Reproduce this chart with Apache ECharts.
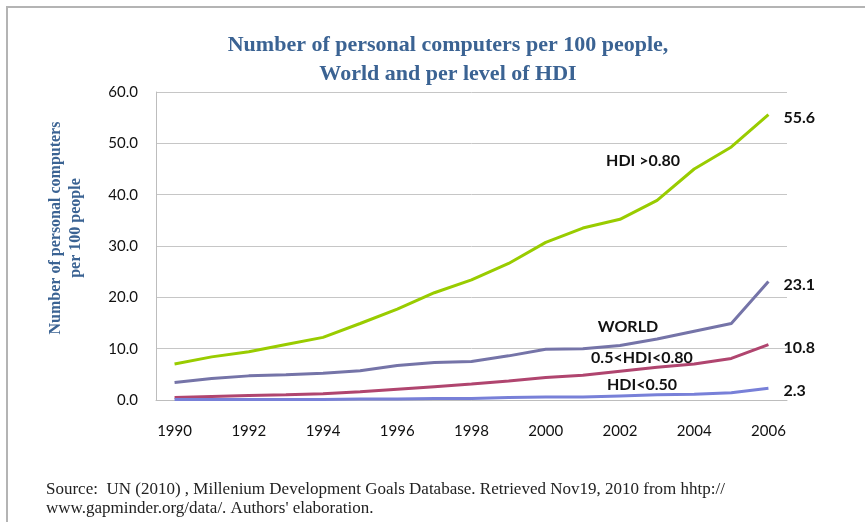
<!DOCTYPE html>
<html><head><meta charset="utf-8">
<script src="https://cdn.jsdelivr.net/npm/echarts@6/dist/echarts.min.js"></script>
<style>html,body{margin:0;padding:0;background:#fff}#c{width:865px;height:522px}</style>
</head><body><div id="c"></div>
<script>
var years = ['1990','1991','1992','1993','1994','1995','1996','1997','1998','1999','2000','2001','2002','2003','2004','2005','2006'];
var hdiHigh = [7.0,8.4,9.4,10.8,12.2,14.9,17.7,20.9,23.4,26.6,30.7,33.5,35.2,38.9,45.0,49.3,55.6];
var world = [3.4,4.2,4.7,4.9,5.2,5.7,6.7,7.3,7.5,8.6,9.9,10.0,10.6,11.9,13.4,14.9,23.1];
var hdiMid = [0.5,0.7,0.9,1.0,1.2,1.6,2.1,2.6,3.1,3.7,4.4,4.8,5.6,6.4,7.0,8.1,10.8];
var hdiLow = [0.1,0.1,0.1,0.1,0.1,0.2,0.2,0.3,0.3,0.5,0.6,0.6,0.8,1.0,1.1,1.4,2.3];
var yTicks = [0,10,20,30,40,50,60];
var seriesNames = ['HDI >0.80','WORLD','0.5<HDI<0.80','HDI<0.50'];
var seriesColors = ['#99cc00','#7574a8','#b0456f','#7880d8'];
var seriesData = [hdiHigh, world, hdiMid, hdiLow];
var nameAnchors = [['2003',46.6],['2002',14.3],['2002',8.2],['2002',2.9]];
var nameOffsets = [[-14,0],[8,0],[22,0],[22,0]];

var chart = echarts.init(document.getElementById('c'));
var lblFont = 'Lato, "Open Sans", sans-serif';
var series = seriesData.map(function(d,i){
  return {
    type:'line', name:seriesNames[i], data:d, symbol:'none', smooth:false,
    lineStyle:{color:seriesColors[i], width:3}, itemStyle:{color:seriesColors[i]},
    endLabel:{show:true, formatter:function(p){return p.value.toFixed(1);}, color:'#111', fontWeight:'bold', fontSize:16, fontFamily:lblFont, distance:15, offset:[0,3]},
    markPoint:{symbol:'circle', symbolSize:0, silent:true,
      data:[{coord:nameAnchors[i], value:seriesNames[i]}],
      label:{show:true, position:'inside', offset:nameOffsets[i], formatter:seriesNames[i], color:'#111', fontWeight:'bold', fontSize:16, fontFamily:lblFont}},
    z: 3
  };
});
chart.setOption({
  animation:false,
  backgroundColor:'#fff',
  title:{text:'Number of personal computers per 100 people,\nWorld and per level of HDI', left:443, textAlign:'center', top:26,
    textStyle:{fontFamily:'"Liberation Serif", "DejaVu Serif", serif', fontWeight:'bold', fontSize:22, color:'#3b6393', lineHeight:29}},
  graphic:[
    {type:'rect', shape:{x:7, y:7, width:900, height:600}, style:{fill:'none', stroke:'#b4b4b4', lineWidth:2}, silent:true},
    {type:'text', x:66, y:228, rotation:Math.PI/2, silent:true,
      style:{text:'Number of personal computers\nper 100 people', font:'bold 16px "Liberation Serif", serif', fill:'#3b6393', align:'center', verticalAlign:'middle', lineHeight:20}},
    {type:'text', left:46, top:480, style:{text:"Source:  UN (2010) , Millenium Development Goals Database. Retrieved Nov19, 2010 from hhtp://\nwww.gapminder.org/data/. Authors' elaboration.", font:'17px "Liberation Serif", serif', fill:'#222', lineHeight:19}}
  ],
  grid:{left:156, right:78, top:92, bottom:122},
  xAxis:{type:'category', data:years, boundaryGap:true,
    axisLine:{show:true, lineStyle:{color:'#bdbdbd', width:1}}, axisTick:{show:false},
    axisLabel:{interval:1, color:'#111', fontSize:15, fontFamily:lblFont, margin:24}},
  yAxis:{type:'value', min:yTicks[0], max:yTicks[yTicks.length-1], interval:10,
    axisLine:{show:true, lineStyle:{color:'#bdbdbd'}}, axisTick:{show:false},
    axisLabel:{color:'#111', fontSize:15, fontFamily:lblFont, margin:18, formatter:function(v){return v.toFixed(1);}},
    splitLine:{lineStyle:{color:'#c6c6c6', width:1}}},
  series:series
});
</script></body></html>
